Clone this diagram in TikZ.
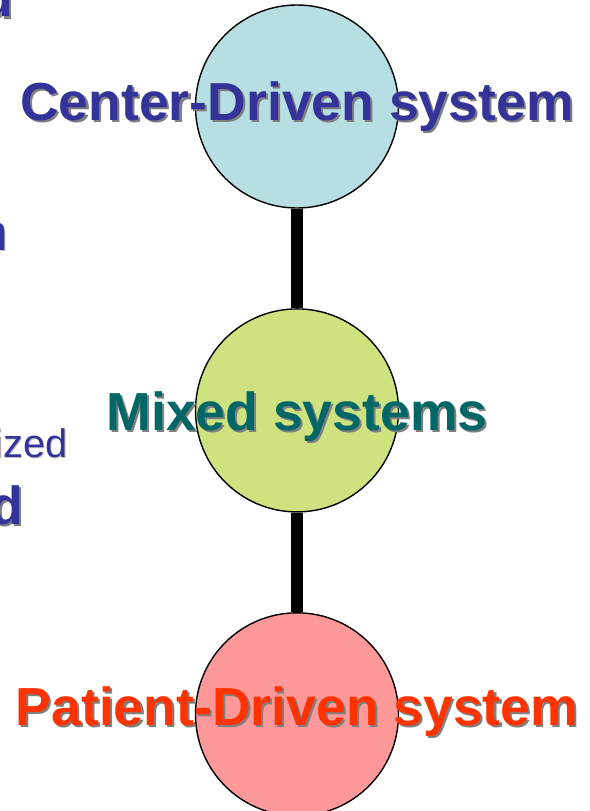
\documentclass[tikz,border=0pt]{standalone}
\usepackage{fontspec}
\setmainfont{Liberation Sans}
\usetikzlibrary{positioning,backgrounds}
\definecolor{centerBlue}{RGB}{51,51,153}
\definecolor{mixTeal}{RGB}{0,102,102}
\definecolor{patientRed}{RGB}{255,51,0}
\definecolor{softBlue}{RGB}{183,222,227}
\definecolor{softGreen}{RGB}{206,227,128}
\definecolor{softPink}{RGB}{255,153,153}
\tikzset{
  disc/.style={circle,draw=black,line width=1.2pt,minimum size=6.09cm,inner sep=0pt},
  linkline/.style={line width=9.5pt,draw=black},
  bigtext/.style={anchor=base,inner sep=0pt,font=\fontsize{45.7}{50}\selectfont\bfseries},
  dropshadow/.style={text=black!50,xshift=1.8pt,yshift=-1.8pt}
}

\begin{document}
\begin{tikzpicture}[x=0.03cm,y=-0.03cm]
\useasboundingbox (0,0) rectangle (590,811);
\clip (0,0) rectangle (590,811);
% circles
\node[disc,fill=softBlue] (center) at (297,106.5) {};
\node[disc,fill=softGreen,below=2.985cm of center] (mixed) {};
\node[disc,fill=softPink,below=2.985cm of mixed] (patient) {};
\begin{scope}[on background layer]
\draw[linkline] (center.south) -- (mixed.north);
\draw[linkline] (mixed.south) -- (patient.north);
\end{scope}
% labels
\node[bigtext,dropshadow,yshift=-0.42cm] (centerShadow) at (center) {Center-Driven system};
\node[bigtext,text=centerBlue,yshift=-0.42cm] (centerLabel) at (center) {Center-Driven system};
\node[bigtext,dropshadow,yshift=-0.61cm] (mixedShadow) at (mixed) {Mixed systems};
\node[bigtext,text=mixTeal,yshift=-0.61cm] (mixedLabel) at (mixed) {Mixed systems};
\node[bigtext,dropshadow,yshift=-0.33cm] (patientShadow) at (patient) {Patient-Driven system};
\node[bigtext,text=patientRed,yshift=-0.33cm] (patientLabel) at (patient) {Patient-Driven system};
% cut text at the left edge
\node[bigtext,anchor=base east,dropshadow] (dTopShadow) at (13,17) {d};
\node[bigtext,anchor=base east,text=centerBlue] (dTop) at (13,17) {d};
\node[anchor=base east,inner sep=0pt,text=black!25,xshift=1pt,yshift=-1pt,font=\fontsize{44}{50}\selectfont] (nShadow) at (8,250) {n};
\node[anchor=base east,inner sep=0pt,text=centerBlue,font=\fontsize{44}{50}\selectfont] (nLeft) at (8,250) {n};
\node[anchor=base east,inner sep=0pt,text=black!25,xshift=1pt,yshift=-1pt,font=\fontsize{34}{40}\selectfont] (izedShadow) at (68,457) {ized};
\node[anchor=base east,inner sep=0pt,text=centerBlue,font=\fontsize{34}{40}\selectfont] (ized) at (68,457) {ized};
\node[bigtext,anchor=base east,dropshadow] (dLowShadow) at (23,524) {d};
\node[bigtext,anchor=base east,text=centerBlue] (dLow) at (23,524) {d};
\end{tikzpicture}
\end{document}
